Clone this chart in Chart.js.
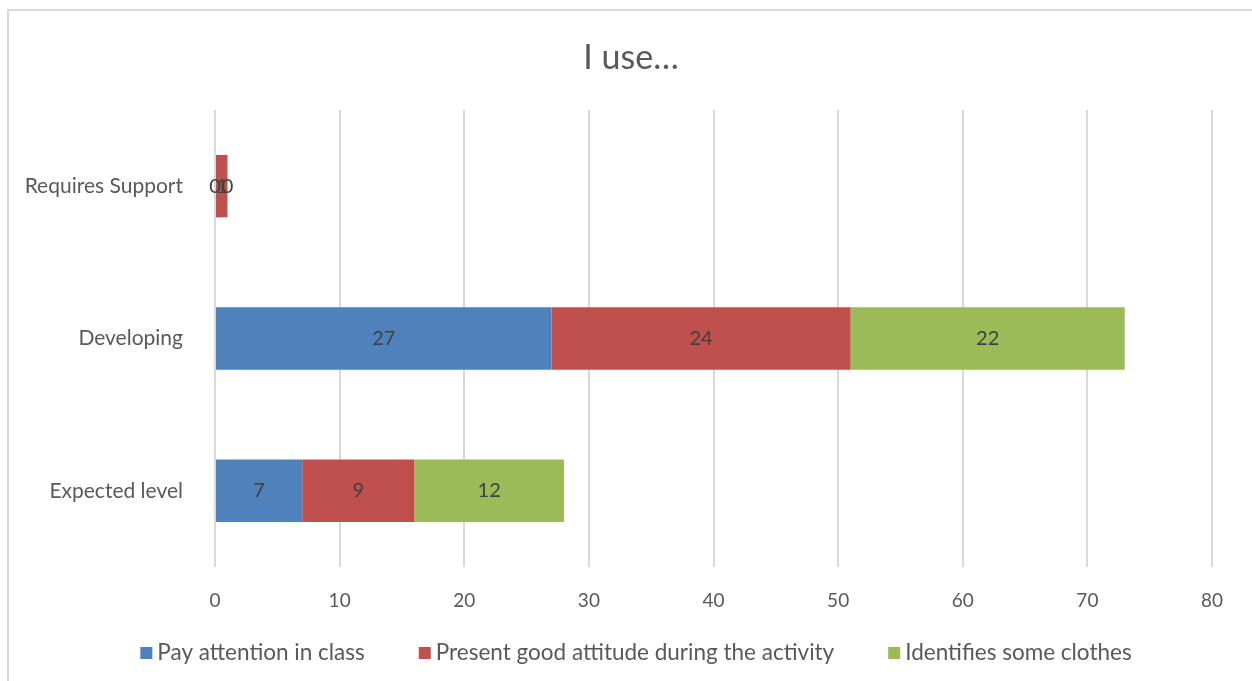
<!DOCTYPE html>
<html>
<head>
<meta charset="utf-8">
<script src="https://cdn.jsdelivr.net/npm/chart.js@4/dist/chart.umd.min.js"></script>
<style>
  html, body { margin: 0; padding: 0; background: #fff; }
  #wrap { position: relative; width: 1252px; height: 681px; }
</style>
</head>
<body>
<div id="wrap"><canvas id="chart" width="1252" height="681"></canvas></div>
<script>
const categories = ['Requires Support', 'Developing', 'Expected level'];
const attention = [0, 27, 7];
const attitude = [1, 24, 9];
const clothes = [0, 22, 12];
const seriesNames = ['Pay attention in class', 'Present good attitude during the activity', 'Identifies some clothes'];
const xTicks = [0, 10, 20, 30, 40, 50, 60, 70, 80];
const titleText = 'I use…';

const FONT = "Lato, 'Open Sans', sans-serif";
const TEXT = '#595959';

// 枠線とタイトル
const frame = {
  id: 'frame',
  beforeDraw(chart) {
    const ctx = chart.ctx;
    ctx.save();
    ctx.fillStyle = '#fff';
    ctx.fillRect(0, 0, chart.width, chart.height);
    ctx.strokeStyle = '#d9d9d9';
    ctx.lineWidth = 2;
    ctx.strokeRect(8, 10, 1400, 1000);
    ctx.font = `34px ${FONT}`;
    ctx.fillStyle = TEXT;
    ctx.textAlign = 'center';
    ctx.textBaseline = 'middle';
    ctx.fillText(titleText, 631, 58);
    ctx.restore();
  }
};

// バー中央に値を描く
const barValues = {
  id: 'barValues',
  afterDatasetsDraw(chart) {
    const ctx = chart.ctx;
    ctx.save();
    ctx.font = `20px ${FONT}`;
    ctx.fillStyle = '#404040';
    ctx.textAlign = 'center';
    ctx.textBaseline = 'middle';
    chart.data.datasets.forEach((ds, i) => {
      chart.getDatasetMeta(i).data.forEach((bar, j) => {
        const p = bar.getProps(['x', 'y', 'base'], true);
        ctx.fillText(String(ds.data[j]), (p.x + p.base) / 2, p.y);
      });
    });
    ctx.restore();
  }
};

// 下部の凡例
const bottomLegend = {
  id: 'bottomLegend',
  afterDraw(chart) {
    const ctx = chart.ctx;
    const box = 12, gap = 5, spacing = 54, y = 653;
    ctx.save();
    ctx.font = `22.5px ${FONT}`;
    ctx.textBaseline = 'middle';
    const items = chart.data.datasets.map(ds => ({
      text: ds.label, color: ds.backgroundColor, w: box + gap + ctx.measureText(ds.label).width
    }));
    const total = items.reduce((s, it) => s + it.w, 0) + spacing * (items.length - 1);
    let x = 636 - total / 2;
    items.forEach(it => {
      ctx.fillStyle = it.color;
      ctx.fillRect(x, y - box / 2, box, box);
      ctx.fillStyle = TEXT;
      ctx.fillText(it.text, x + box + gap, y);
      x += it.w + spacing;
    });
    ctx.restore();
  }
};

new Chart(document.getElementById('chart'), {
  type: 'bar',
  data: {
    labels: categories,
    datasets: [
      { label: seriesNames[0], data: attention, backgroundColor: '#4f81bd' },
      { label: seriesNames[1], data: attitude, backgroundColor: '#c0504d' },
      { label: seriesNames[2], data: clothes, backgroundColor: '#9bbb59' }
    ]
  },
  options: {
    indexAxis: 'y',
    responsive: false,
    animation: false,
    layout: { padding: { top: 110, left: 0, right: 40, bottom: 0 } },
    datasets: { bar: { barPercentage: 0.41, categoryPercentage: 1 } },
    scales: {
      x: {
        stacked: true,
        min: 0,
        max: 80,
        afterBuildTicks(scale) { scale.ticks = xTicks.map(v => ({ value: v })); },
        afterFit(scale) { scale.height = 114; },
        grid: { color: '#d9d9d9', lineWidth: 2, drawTicks: false },
        border: { display: false },
        ticks: { color: TEXT, font: { family: FONT, size: 19 }, padding: 22 }
      },
      y: {
        stacked: true,
        afterFit(scale) { scale.width = 215; },
        grid: { display: false, drawTicks: false },
        border: { display: false },
        ticks: { color: TEXT, font: { family: FONT, size: 21 }, padding: 32 }
      }
    },
    plugins: {
      title: { display: false },
      legend: { display: false },
      tooltip: { enabled: false }
    }
  },
  plugins: [frame, barValues, bottomLegend]
});
</script>
</body>
</html>
